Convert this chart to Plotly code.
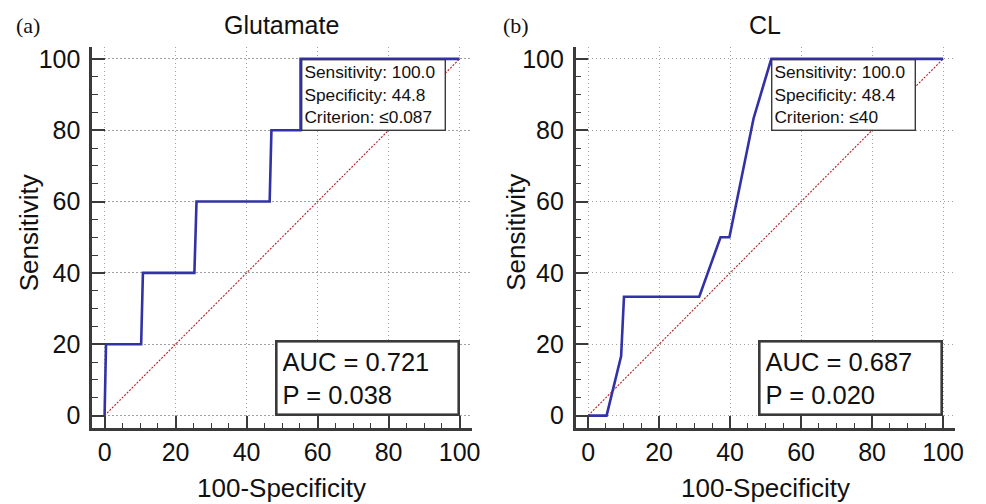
import plotly.graph_objects as go

# ---- data ----
glu_fpr = [0, 0.4, 10.3, 10.8, 25.3, 25.9, 46.5, 47.0, 55.2, 55.2, 100]
glu_sens = [0, 20, 20, 40, 40, 60, 60, 80, 80, 100, 100]
cl_fpr = [0, 5.2, 9.3, 10.1, 31.3, 37.3, 39.8, 46.6, 51.6, 100]
cl_sens = [0, 0, 16.7, 33.3, 33.3, 50, 50, 83.3, 100, 100]
diag = [0, 100]
tick_vals = [0, 20, 40, 60, 80, 100]
panels = [
    dict(label="(a)", title="Glutamate", x=glu_fpr, y=glu_sens,
         sens="100.0", spec="44.8", crit="≤0.087", auc="0.721", p="0.038"),
    dict(label="(b)", title="CL", x=cl_fpr, y=cl_sens,
         sens="100.0", spec="48.4", crit="≤40", auc="0.687", p="0.020"),
]

W, H = 986, 504
FONT = "Liberation Sans, Arial, sans-serif"
BLUE = "#3232a6"
AX = "#3a3a3a"


def px(v):
    return v / W


def py(v):
    return 1 - v / H


fig = go.Figure()
doms = [(93, 476), (581, 964)]
ytop, ybot = 45, 429

annotations = []
for i, p in enumerate(panels):
    xa = "x" if i == 0 else "x2"
    ya = "y" if i == 0 else "y2"
    fig.add_trace(go.Scatter(x=diag, y=diag, mode="lines", xaxis=xa, yaxis=ya,
                             line=dict(color="#b81c22", width=1.1, dash="2px,1.5px"),
                             showlegend=False, hoverinfo="skip"))
    fig.add_trace(go.Scatter(x=p["x"], y=p["y"], mode="lines", xaxis=xa, yaxis=ya,
                             line=dict(color=BLUE, width=2.6),
                             showlegend=False))
    x0, x1 = doms[i]
    axcommon = dict(
        showline=True, linecolor=AX, linewidth=2.6,
        ticks="inside", ticklen=13, tickwidth=2.4, tickcolor=AX,
        tickvals=tick_vals, tickfont=dict(family=FONT, size=25, color="#111"),
        showgrid=True, gridcolor="#a0a0a0", griddash="1.5px,2.5px", gridwidth=1,
        zeroline=False, mirror=False,
        minor=dict(ticks="inside", ticklen=6, tickwidth=1.4, tickcolor=AX, dtick=5, showgrid=False),
        fixedrange=True,
    )
    xkey = "xaxis" if i == 0 else "xaxis2"
    ykey = "yaxis" if i == 0 else "yaxis2"
    fig.layout[xkey] = dict(axcommon, domain=[px(x0), px(x1)], range=[-3.5, 103.4],
                            anchor=ya, ticklabelstandoff=0)
    fig.layout[ykey] = dict(axcommon, domain=[py(ybot), py(ytop)], range=[-3.6, 103.4],
                            anchor=xa, ticklabelstandoff=4)
    cx = (x0 + x1) / 2
    center = dict(xref="paper", yref="paper", showarrow=False, xanchor="center", yanchor="middle")
    # panel label
    annotations.append(dict(center, text=p["label"], x=px(28 if i == 0 else 521), y=py(24),
                            font=dict(family="Liberation Serif, Times New Roman, serif", size=22, color="#111")))
    # title
    annotations.append(dict(center, text=p["title"], x=px(cx), y=py(23),
                            font=dict(family=FONT, size=25, color="#111")))
    # axis titles
    annotations.append(dict(center, text="Sensitivity", x=px(29 if i == 0 else 520), y=py(232),
                            textangle=-90, font=dict(family=FONT, size=26, color="#111")))
    annotations.append(dict(center, text="100-Specificity", x=px(cx), y=py(489),
                            font=dict(family=FONT, size=26, color="#111")))
    # criterion box anchored at the optimal point
    crit_x = 100 - float(p["spec"])
    annotations.append(dict(
        text=f"Sensitivity: {p['sens']}<br>Specificity: {p['spec']}<br>Criterion: {p['crit']}",
        x=crit_x, y=float(p["sens"]), xref=xa, yref=ya, xanchor="left", yanchor="top",
        showarrow=False, align="left", bgcolor="white", bordercolor=AX, borderwidth=1.4,
        borderpad=2, width=138, font=dict(family=FONT, size=17.3, color="#111")))
    # AUC box
    annotations.append(dict(
        text=f"AUC = {p['auc']}<br>P = {p['p']}",
        x=100, y=0, xref=xa, yref=ya, xanchor="right", yanchor="bottom",
        showarrow=False, align="left", bgcolor="white", bordercolor=AX, borderwidth=2.6,
        borderpad=5, width=170, font=dict(family=FONT, size=25.5, color="#111")))

fig.update_layout(
    width=W, height=H, margin=dict(l=0, r=0, t=0, b=0),
    paper_bgcolor="white", plot_bgcolor="white",
    annotations=annotations, showlegend=False,
)
fig.write_html(
    "out.html",
    config={"displayModeBar": False},
    post_script="document.body.style.margin='0';document.body.style.overflow='hidden';",
)
